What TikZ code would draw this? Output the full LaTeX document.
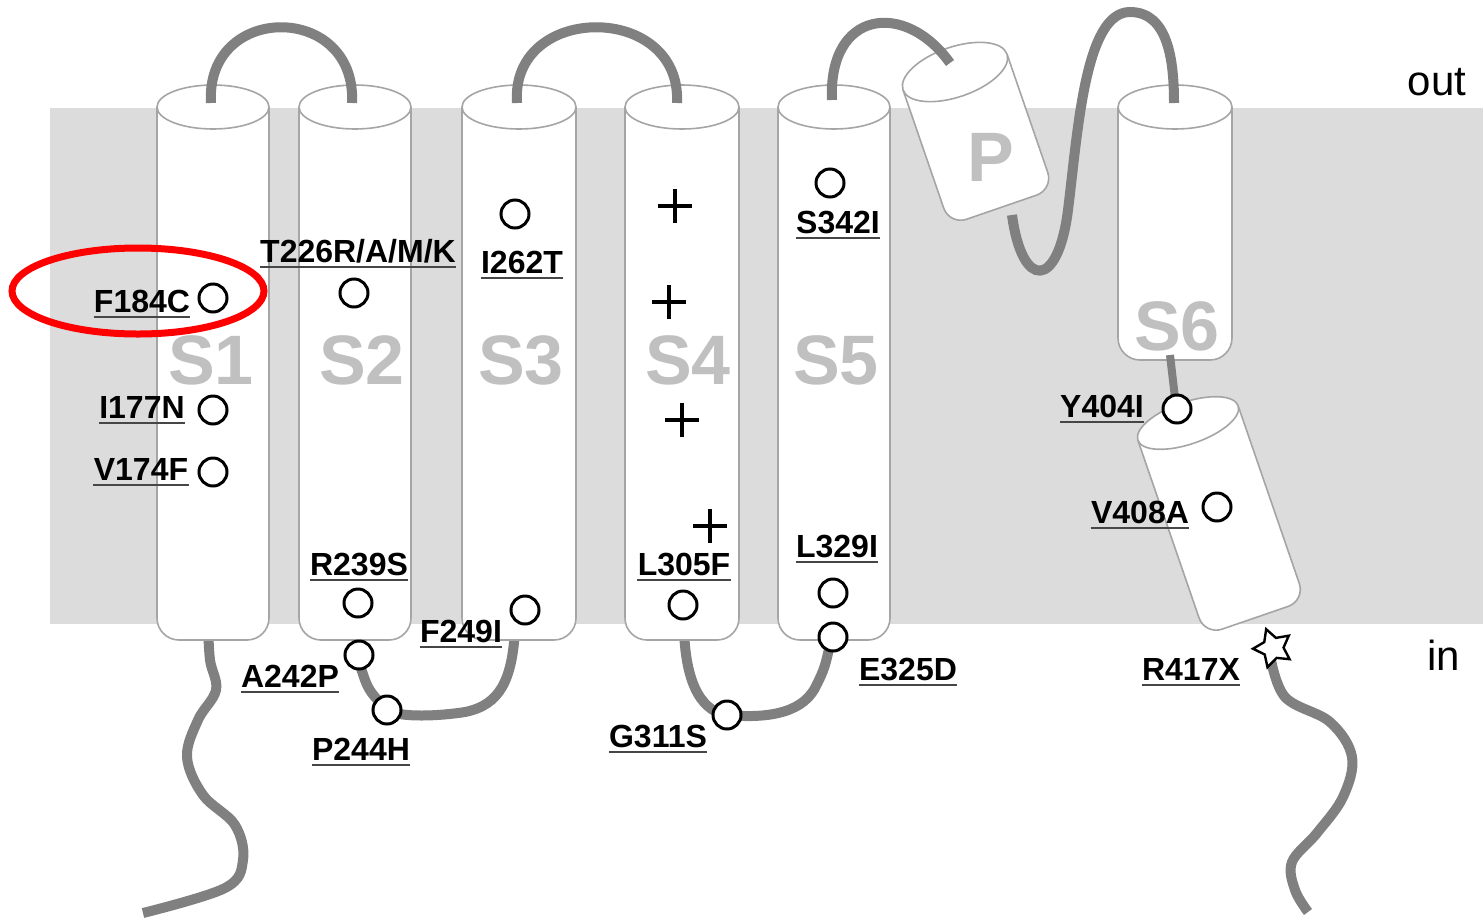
\documentclass[tikz,border=0pt]{standalone}
\usepackage{fontspec}
\setmainfont{Liberation Sans}
\usetikzlibrary{shapes.geometric}

\definecolor{memgray}{RGB}{220,220,220}
\definecolor{cylline}{RGB}{165,165,165}
\definecolor{chaingray}{RGB}{128,128,128}
\definecolor{seggray}{RGB}{192,192,192}
\definecolor{ulgray}{RGB}{70,70,70}

\newcommand{\mutfont}{\fontsize{16}{18}\selectfont\bfseries}
\newcommand{\segfont}{\fontsize{35}{38}\selectfont\bfseries}
\newcommand{\sidefont}{\fontsize{21}{24}\selectfont}

\tikzset{
  membrane/.style={fill=memgray, draw=none},
  cylbody/.style={fill=white, draw=cylline, line width=0.8pt},
  chain/.style={draw=chaingray, line width=5pt},
  site/.style={circle, draw=black, fill=white, line width=1.5pt, minimum size=14pt, inner sep=0pt},
  mut/.style={font=\mutfont, inner sep=0pt, anchor=base},
  uline/.style={draw=ulgray, line width=1.1pt},
  seglbl/.style={font=\segfont, text=seggray, inner sep=0pt},
  chargemark/.style={draw=black, line width=2pt},
  sidelbl/.style={font=\sidefont, inner sep=0pt, anchor=base},
  ring/.style={draw=red, line width=3.5pt}
}

% vertical helix: centre x, half width, bottom y
\newcommand{\vcyl}[3]{%
  \path[cylbody, rounded corners=11pt] (#1-#2,107) -- (#1-#2,#3) -- (#1+#2,#3) -- (#1+#2,107);
  \path[cylbody] (#1,107) ellipse [x radius=#2, y radius=22];}

% tilted helix: top centre x, y, angle, half width, length, cap radius
\newcommand{\tcyl}[6]{%
  \begin{scope}[shift={(#1,#2)}, rotate=#3]
    \path[cylbody, rounded corners=9pt] (-#4,0) -- (-#4,#5) -- (#4,#5) -- (#4,0);
    \path[cylbody] (0,0) ellipse [x radius=#4, y radius=#6];
  \end{scope}}

% underlined mutation label: name, x, baseline y, text
\newcommand{\mutation}[4]{%
  \node[mut] (#1) at (#2,#3) {#4};
  \draw[uline] ([yshift=-2.5pt]#1.base west) -- ([yshift=-2.5pt]#1.base east);}

% positive gating charge
\newcommand{\chargeplus}[2]{%
  \draw[chargemark] (#1-17,#2) -- (#1+17,#2) (#1,#2-17) -- (#1,#2+17);}

\begin{document}
\begin{tikzpicture}[x=0.5pt, y=-0.5pt]
  \useasboundingbox (0,0) rectangle (1483,922);

  % lipid bilayer
  \fill[membrane] (50,108) rectangle (1483,624);

  % intracellular tails and loops (tucked under the helices)
  \draw[chain] plot[smooth, tension=0.6] coordinates
    {(208,625) (210,660) (216,690) (198,720) (187,757) (203,795) (235,825) (243,860) (225,888) (143,913)};
  \draw[chain] (358,630) -- (360,665) .. controls (368,690) .. (387,710)
    .. controls (400,718) and (440,716) .. (465,712)
    .. controls (500,705) and (512,680) .. (515,630);
  \draw[chain] (684,630) .. controls (686,690) and (705,712) .. (727,715)
    .. controls (760,718) and (800,716) .. (815,688)
    .. controls (825,668) .. (833,630);
  \draw[chain] plot[smooth, tension=0.6] coordinates
    {(1270,655) (1285,697) (1330,722) (1352,757) (1343,797) (1317,833) (1292,862) (1295,890) (1308,912)};

  % transmembrane helices S1-S6
  \vcyl{213}{56}{640}
  \vcyl{355}{56}{640}
  \vcyl{519}{57}{640}
  \vcyl{682}{57}{640}
  \vcyl{834}{56}{640}
  \vcyl{1175}{57}{360}

  % S6 to the C-terminal helix
  \draw[chain, line width=4pt] (1170,355) -- (1175,398);

  % pore loop entering S6
  \draw[chain] (1012,215) .. controls (1022,290) and (1058,290) .. (1068,210)
    .. controls (1078,130) and (1085,12) .. (1130,12)
    .. controls (1168,12) and (1174,60) .. (1174,103);

  % pore helix and C-terminal helix
  \tcyl{955}{72}{19}{55}{143}{25}
  \tcyl{1188}{423}{19}{53}{206}{21}

  % extracellular loops
  \draw[chain] (211,103) .. controls (205,2) and (357,2) .. (352,103);
  \draw[chain] (517,103) .. controls (510,2) and (682,2) .. (677,103);
  \draw[chain] (832,100) .. controls (828,10) and (905,0) .. (950,63);

  % segment names
  \node[seglbl] (s1) at (211,360) {S1};
  \node[seglbl] (s2) at (362,360) {S2};
  \node[seglbl] (s3) at (521,360) {S3};
  \node[seglbl] (s4) at (688,360) {S4};
  \node[seglbl] (s5) at (836,360) {S5};
  \node[seglbl] (s6) at (1177,326) {S6};
  \node[seglbl] (pp) at (991,157) {P};

  % voltage sensor charges
  \chargeplus{675}{206}
  \chargeplus{669}{302}
  \chargeplus{682}{420}
  \chargeplus{710}{526}

  % mutated residues
  \node[site] (c184) at (213,298) {};
  \node[site] (c226) at (354,293) {};
  \node[site] (c262) at (515,214) {};
  \node[site] (c342) at (830,183) {};
  \node[site] (c177) at (213,410) {};
  \node[site] (c174) at (213,472) {};
  \node[site] (c239) at (358,603) {};
  \node[site] (c249) at (525,610) {};
  \node[site] (c305) at (683,605) {};
  \node[site] (c329) at (833,593) {};
  \node[site] (c325) at (833,637) {};
  \node[site] (c242) at (359,655) {};
  \node[site] (c244) at (387,710) {};
  \node[site] (c311) at (727,715) {};
  \node[site] (c404) at (1177,409) {};
  \node[site] (c408) at (1217,507) {};
  \node[star, star points=5, star point ratio=1.9, draw=black, fill=white, line width=1.2pt,
        minimum size=20pt, inner sep=0pt, rotate=20] (c417) at (1273,648) {};

  % mutation labels
  \mutation{l184}{142}{312}{F184C}
  \mutation{l226}{358}{262}{T226R/A/M/K}
  \mutation{l262}{522}{273}{I262T}
  \mutation{l342}{838}{233}{S342I}
  \mutation{l177}{142}{418}{I177N}
  \mutation{l174}{141}{480}{V174F}
  \mutation{l239}{359}{575}{R239S}
  \mutation{l249}{461}{642}{F249I}
  \mutation{l305}{684}{575}{L305F}
  \mutation{l329}{837}{557}{L329I}
  \mutation{l242}{290}{687}{A242P}
  \mutation{l244}{361}{760}{P244H}
  \mutation{l311}{658}{747}{G311S}
  \mutation{l325}{908}{680}{E325D}
  \mutation{l404}{1102}{417}{Y404I}
  \mutation{l408}{1140}{523}{V408A}
  \mutation{l417}{1191}{680}{R417X}

  % sides of the membrane
  \node[sidelbl] (outside) at (1437,95) {out};
  \node[sidelbl] (inside) at (1444,670) {in};

  % highlighted mutation
  \draw[ring] (138,291) ellipse [x radius=126, y radius=43];
\end{tikzpicture}
\end{document}
